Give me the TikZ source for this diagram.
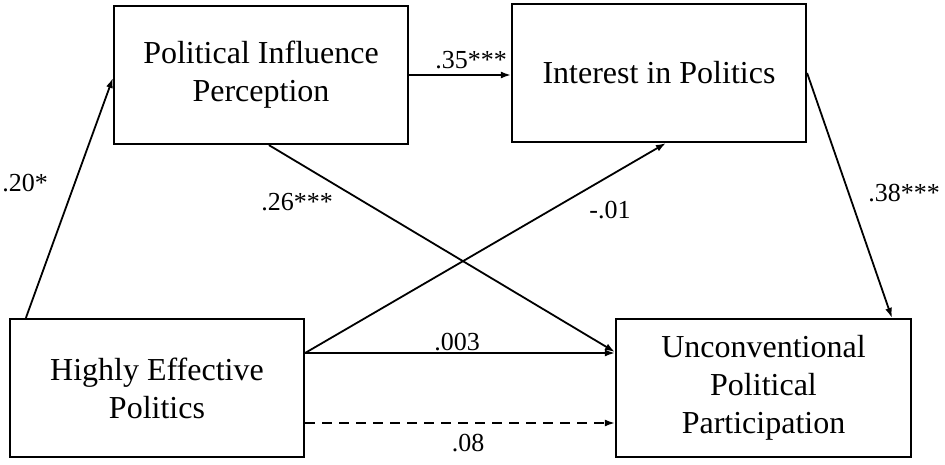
\documentclass[tikz,border=0pt]{standalone}
\usepackage{fontspec}
\setmainfont{Liberation Serif}
\usetikzlibrary{arrows.meta,calc}
\tikzset{
  box/.style={draw, line width=2.2pt, minimum width=294pt, minimum height=138pt, align=center, inner sep=0pt,
    font=\fontsize{32}{38}\selectfont},
  conn/.style={line width=1.8pt, -{Latex[length=10pt,width=7pt]}},
  lbl/.style={font=\fontsize{26}{30}\selectfont, inner sep=0pt}
}
\begin{document}
\begin{tikzpicture}[x=1pt,y=-1pt]
\useasboundingbox[fill=white] (0,0) rectangle (945,465);
\node[box] (pip) at (261,75) {Political Influence\\Perception};
\node[box] (iip) at (659,73) {Interest in Politics};
\node[box] (hep) at (157,388) {Highly Effective\\Politics};
\node[box, minimum width=295pt] (upp) at (763.5,388) {Unconventional\\Political\\Participation};

\draw[conn] ($(hep.north west)+(17,0)$) -- ($(pip.west)+(0,3)$);
\draw[conn] (pip.east) -- (pip.east -| iip.west);
\draw[conn] ($(pip.south west)+(156,0)$) -- ($(upp.west)+(0,-36)$);
\draw[conn] ($(hep.east)+(0,-35)$) -- ($(iip.south west)+(155,0)$);
\draw[conn] ($(hep.east)+(0,-35)$) -- ($(upp.west)+(0,-35)$);
\draw[conn, dash pattern=on 10pt off 7pt] ($(hep.east)+(0,35)$) -- ($(upp.west)+(0,35)$);
\draw[conn] (iip.east) -- ($(upp.north west)+(277,0)$);

\node[lbl] (l20) at (25,183) {.20*};
\node[lbl] (l35) at (471,60) {.35***};
\node[lbl] (l26) at (297,202) {.26***};
\node[lbl] (l01) at (610,210) {-.01};
\node[lbl] (l38) at (904,193) {.38***};
\node[lbl] (l003) at (457,342) {.003};
\node[lbl] (l08) at (468,443) {.08};
\end{tikzpicture}
\end{document}
